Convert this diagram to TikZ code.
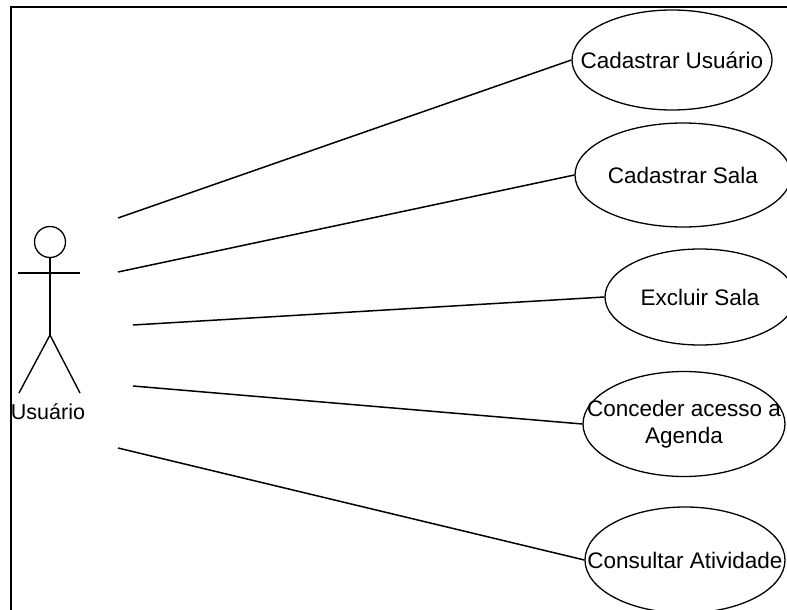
\documentclass[tikz,border=0pt]{standalone}
\usepackage{fontspec}
\setmainfont{Liberation Sans}
\usetikzlibrary{shapes.geometric}
\begin{document}
\begin{tikzpicture}[x=1pt,y=-1pt,
  usecase/.style={ellipse,draw,line width=1.3pt,inner sep=0pt},
  uctext/.style={align=center,inner sep=0pt,font=\fontsize{22.5}{27}\selectfont},
  assoc/.style={line width=1.5pt},
  stick/.style={line width=1.4pt}]
\useasboundingbox (0,0) rectangle (787,610);
\clip (0,0) rectangle (787,610);
\fill[white] (0,0) rectangle (787,610);
% frame
\draw[line width=2pt] (11,615) -- (11,7) -- (795,7);
% use cases
\node[usecase,minimum width=200pt,minimum height=100pt] (u1) at (672,60) {};
\node[uctext] (t1) at (u1.center) {Cadastrar Usuário};
\node[usecase,minimum width=216pt,minimum height=104pt] (u2) at (683,175) {};
\node[uctext] (t2) at (u2.center) {Cadastrar Sala};
\node[usecase,minimum width=190pt,minimum height=96pt] (u3) at (700,297) {};
\node[uctext] (t3) at (u3.center) {Excluir Sala};
\node[usecase,minimum width=202pt,minimum height=105pt] (u4) at (684,424) {};
\node[uctext] (t4) at (u4.center) {Conceder acesso a\\Agenda};
\node[usecase,minimum width=200pt,minimum height=106pt] (u5) at (685,560) {};
\node[uctext] (t5) at (u5.center) {Consultar Atividade};
% actor
\node[circle,draw,line width=1.3pt,minimum size=31pt,inner sep=0pt] (head) at (50,242) {};
\coordinate (armL) at (18,273);
\coordinate (armR) at (80,273);
\coordinate (hip) at (50,335);
\coordinate (footL) at (19,393);
\coordinate (footR) at (80,393);
\draw[stick] (head.south) -- (hip);
\draw[stick] (armL) -- (armR);
\draw[stick] (footL) -- (hip) -- (footR);
\node[font=\fontsize{21.5}{26}\selectfont,inner sep=0pt] (actor) at (48,412) {Usuário};
% association ends
\coordinate (a1) at (118,218);
\coordinate (a2) at (118,272);
\coordinate (a3) at (133,325);
\coordinate (a4) at (133,386);
\coordinate (a5) at (118,448);
\draw[assoc] (a1) -- (u1.west);
\draw[assoc] (a2) -- (u2.west);
\draw[assoc] (a3) -- (u3.west);
\draw[assoc] (a4) -- (u4.west);
\draw[assoc] (a5) -- (u5.west);
\end{tikzpicture}
\end{document}
